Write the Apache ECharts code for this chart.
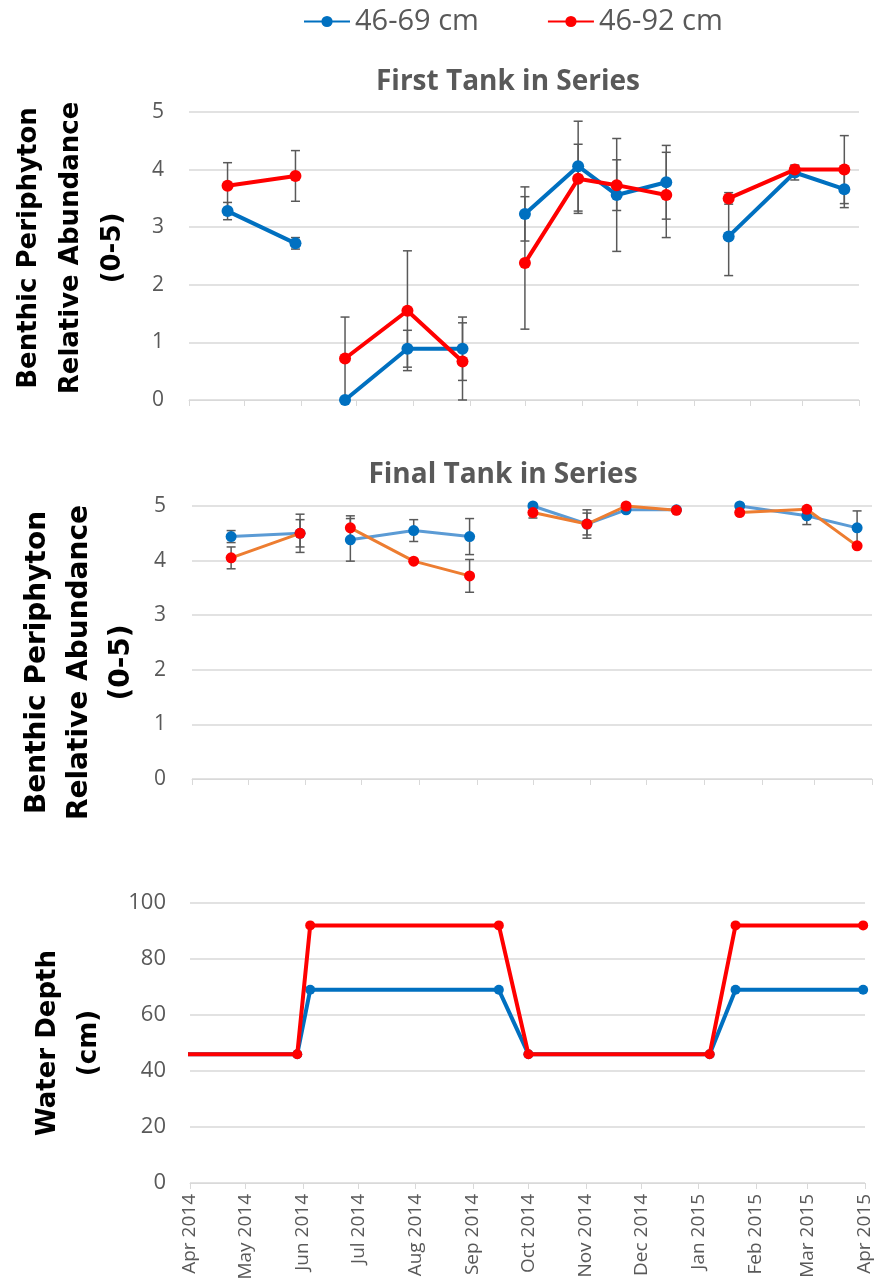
<!DOCTYPE html>
<html>
<head>
<meta charset="utf-8">
<script src="https://cdn.jsdelivr.net/npm/echarts@6/dist/echarts.min.js"></script>
<style>
html,body{margin:0;padding:0;background:#fff;}
#chart{width:878px;height:1283px;}
</style>
</head>
<body>
<div id="chart"></div>
<script>
// ---------- DATA ----------
const seriesNames = ['46-69 cm', '46-92 cm'];
const sampleDates = ['2014-04-22','2014-05-29','2014-06-25','2014-07-29','2014-08-28','2014-10-01',
                     '2014-10-30','2014-11-20','2014-12-17','2015-01-20','2015-02-25','2015-03-24'];
// index where a new (unconnected) segment starts
const segmentStarts = [2, 5, 9];

// First tank in series
const firstBlue    = [3.28, 2.72, 0.00, 0.89, 0.89, 3.23, 4.06, 3.56, 3.78, 2.84, 3.95, 3.66];
const firstBlueErr = [0.15, 0.10, 0.00, 0.32, 0.55, 0.47, 0.78, 0.98, 0.64, 0.68, 0.13, 0.32];
const firstRed     = [3.72, 3.89, 0.72, 1.55, 0.67, 2.38, 3.84, 3.73, 3.56, 3.50, 4.00, 4.00];
const firstRedErr  = [0.40, 0.44, 0.72, 1.04, 0.67, 1.15, 0.60, 0.44, 0.74, 0.10, 0.05, 0.59];

// Final tank in series
const finalBlue    = [4.44, 4.50, 4.38, 4.55, 4.44, 5.00, 4.67, 4.93, 4.93, 5.00, 4.82, 4.60];
const finalBlueErr = [0.11, 0.35, 0.39, 0.20, 0.33, 0.00, 0.26, 0.00, 0.00, 0.00, 0.16, 0.31];
const finalRed     = [4.05, 4.50, 4.60, 3.99, 3.72, 4.88, 4.67, 5.00, 4.92, 4.88, 4.94, 4.27];
const finalRedErr  = [0.20, 0.25, 0.22, 0.00, 0.30, 0.10, 0.20, 0.00, 0.00, 0.00, 0.00, 0.00];

// Water depth
const depthDates = ['2014-03-01','2014-05-29','2014-06-05','2014-09-15','2014-10-01','2015-01-07','2015-01-21','2015-03-31'];
const depthBlue  = [46, 46, 69, 69, 46, 46, 69, 69];
const depthRed   = [46, 46, 92, 92, 46, 46, 92, 92];

const monthNames = ['Jan','Feb','Mar','Apr','May','Jun','Jul','Aug','Sep','Oct','Nov','Dec'];
const axisMin = '2014-04-01', axisMax = '2015-04-01';
const abundanceTicks = {min: 0, max: 5, interval: 1};
const depthTicks = {min: 0, max: 100, interval: 20};

// ---------- HELPERS ----------
function lineData(vals) {
  const out = [];
  sampleDates.forEach((d, i) => {
    if (segmentStarts.indexOf(i) >= 0) out.push([d, '-']);
    out.push([d, vals[i]]);
  });
  return out;
}
function errData(vals, errs) {
  const out = [];
  vals.forEach((v, i) => {
    if (errs[i] > 0) out.push([sampleDates[i], Math.max(0, v - errs[i]), v + errs[i]]);
  });
  return out;
}
function errRender(params, api) {
  const x = api.value(0), lo = api.value(1), hi = api.value(2);
  const p1 = api.coord([x, hi]), p2 = api.coord([x, lo]);
  const w = 4.5;
  const style = {stroke: '#595959', lineWidth: 1.5};
  return {type: 'group', children: [
    {type: 'line', shape: {x1: p1[0], y1: p1[1], x2: p2[0], y2: p2[1]}, style: style},
    {type: 'line', shape: {x1: p1[0]-w, y1: p1[1], x2: p1[0]+w, y2: p1[1]}, style: style},
    {type: 'line', shape: {x1: p2[0]-w, y1: p2[1], x2: p2[0]+w, y2: p2[1]}, style: style}
  ]};
}
function errSeries(idx, vals, errs) {
  return {type: 'custom', xAxisIndex: idx, yAxisIndex: idx, renderItem: errRender,
          data: errData(vals, errs), encode: {x: 0, y: [1, 2]}, z: 1, silent: true};
}
function xAxisDef(idx, showLabels) {
  return {
    type: 'time', gridIndex: idx, min: axisMin, max: axisMax, splitNumber: 12,
    axisLine: {show: true, lineStyle: {color: '#d9d9d9', width: 1}},
    axisTick: {show: true, length: 6, lineStyle: {color: '#d9d9d9'}},
    splitLine: {show: false},
    axisLabel: {
      show: showLabels, rotate: 90, fontSize: 19, color: '#595959', margin: 11,
      fontFamily: 'Open Sans', showMinLabel: true, showMaxLabel: true, hideOverlap: false,
      formatter: function (val) { const d = new Date(val); return monthNames[d.getMonth()] + ' ' + d.getFullYear(); }
    }
  };
}
function yAxisDef(idx, ticks, name, nameSize, nameGap, lh, labelSize, margin, pad) {
  return {
    type: 'value', gridIndex: idx, min: ticks.min, max: ticks.max, interval: ticks.interval,
    axisLine: {show: false}, axisTick: {show: false},
    splitLine: {show: true, lineStyle: {color: '#d9d9d9', width: 1.5}},
    axisLabel: {fontSize: labelSize, color: '#595959', margin: margin, fontFamily: 'Open Sans'},
    name: name, nameLocation: 'middle', nameRotate: 90, nameGap: nameGap,
    nameTextStyle: {fontFamily: 'DejaVu Sans', fontWeight: 'bold', fontSize: nameSize,
                    color: '#000', lineHeight: lh, align: 'center', padding: pad}
  };
}
const BLUE = '#0070c0', RED = '#ff0000', LBLUE = '#5b9bd5', ORANGE = '#ed7d31';

const option = {
  animation: false,
  backgroundColor: '#fff',
  textStyle: {fontFamily: 'Open Sans'},
  legend: {
    data: seriesNames, left: 298, top: 2, itemWidth: 46, itemHeight: 14, itemGap: 68,
    textStyle: {fontSize: 29, color: '#595959', fontFamily: 'Open Sans'}
  },
  title: [
    {text: 'First Tank in Series', left: 503, top: 63, textAlign: 'center',
     textStyle: {fontSize: 28, fontWeight: 'bold', color: '#595959', fontFamily: 'Open Sans'}},
    {text: 'Final Tank in Series', left: 498, top: 456, textAlign: 'center',
     textStyle: {fontSize: 28, fontWeight: 'bold', color: '#595959', fontFamily: 'Open Sans'}}
  ],
  grid: [
    {left: 185, top: 112, width: 674, height: 288},
    {left: 192, top: 506, width: 680, height: 273},
    {left: 190, top: 903, width: 675, height: 280}
  ],
  xAxis: [xAxisDef(0, false), xAxisDef(1, false), xAxisDef(2, true)],
  yAxis: [
    yAxisDef(0, abundanceTicks, 'Benthic Periphyton\nRelative Abundance\n(0-5)', 26, 55, 42, 21, 25, [0, 0, 0, 16]),
    yAxisDef(1, abundanceTicks, 'Benthic Periphyton\nRelative Abundance\n(0-5)', 28, 48, 42, 21, 26, [0, 40, 0, 0]),
    yAxisDef(2, depthTicks, 'Water Depth\n(cm)', 26, 80, 41, 22, 24, [0, 0, 0, 0])
  ],
  series: [
    errSeries(0, firstBlue, firstBlueErr),
    errSeries(0, firstRed, firstRedErr),
    {name: seriesNames[0], type: 'line', xAxisIndex: 0, yAxisIndex: 0, data: lineData(firstBlue),
     symbol: 'circle', symbolSize: 12, z: 3, lineStyle: {color: BLUE, width: 4}, itemStyle: {color: BLUE}},
    {name: seriesNames[1], type: 'line', xAxisIndex: 0, yAxisIndex: 0, data: lineData(firstRed),
     symbol: 'circle', symbolSize: 12, z: 4, lineStyle: {color: RED, width: 4}, itemStyle: {color: RED}},

    errSeries(1, finalBlue, finalBlueErr),
    errSeries(1, finalRed, finalRedErr),
    {name: seriesNames[0], type: 'line', xAxisIndex: 1, yAxisIndex: 1, data: lineData(finalBlue),
     symbol: 'circle', symbolSize: 11, z: 3, lineStyle: {color: LBLUE, width: 3}, itemStyle: {color: BLUE}},
    {name: seriesNames[1], type: 'line', xAxisIndex: 1, yAxisIndex: 1, data: lineData(finalRed),
     symbol: 'circle', symbolSize: 11, z: 4, lineStyle: {color: ORANGE, width: 3}, itemStyle: {color: RED}},

    {name: seriesNames[0], type: 'line', xAxisIndex: 2, yAxisIndex: 2,
     data: depthDates.map((d, i) => [d, depthBlue[i]]), clip: true,
     symbol: 'circle', symbolSize: 10, z: 3, lineStyle: {color: BLUE, width: 4}, itemStyle: {color: BLUE}},
    {name: seriesNames[1], type: 'line', xAxisIndex: 2, yAxisIndex: 2,
     data: depthDates.map((d, i) => [d, depthRed[i]]), clip: true,
     symbol: 'circle', symbolSize: 10, z: 4, lineStyle: {color: RED, width: 4}, itemStyle: {color: RED}}
  ]
};
const chart = echarts.init(document.getElementById('chart'), null, {renderer: 'canvas'});
chart.setOption(option);
</script>
</body>
</html>
